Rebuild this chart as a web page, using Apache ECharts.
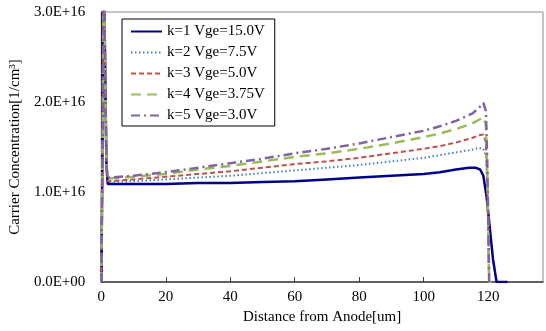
<!DOCTYPE html>
<html><head><meta charset="utf-8">
<script src="https://cdn.jsdelivr.net/npm/echarts@6/dist/echarts.min.js"></script>
<style>html,body{margin:0;padding:0;background:#fff}#c{width:546px;height:331px}</style>
</head><body><div id="c"></div>
<script>
const seriesNames = ['k=1 Vge=15.0V','k=2 Vge=7.5V','k=3 Vge=5.0V','k=4 Vge=3.75V','k=5 Vge=3.0V'];
const xTicks = [0,20,40,60,80,100,120];
const yTicks = [0,1e16,2e16,3e16];

const xK1 = [0,0.4,0.8,1.2,1.6,2,5,10,20,30,40,50,60,70,80,90,100,105,110,114,116,117.5,118.5,119.5,120.5,121.5,122.6,126];
const yK1 = [0,1.5e16,3.5e16,3.5e16,1.3e16,1.09e16,1.09e16,1.09e16,1.09e16,1.10e16,1.10e16,1.11e16,1.12e16,1.14e16,1.16e16,1.18e16,1.20e16,1.22e16,1.25e16,1.27e16,1.27e16,1.25e16,1.18e16,0.95e16,0.6e16,0.25e16,0,0];

const xK = [0,0.4,0.8,1.2,1.6,2,10,20,30,40,50,60,70,80,90,100,105,110,115,117,118.5,119.3,119.8,120.3,121];
const yK2 = [0,1.5e16,3.5e16,3.5e16,1.3e16,1.11e16,1.12e16,1.14e16,1.16e16,1.18e16,1.21e16,1.24e16,1.27e16,1.30e16,1.34e16,1.38e16,1.41e16,1.44e16,1.47e16,1.49e16,1.48e16,1.40e16,1.0e16,0,0];
const yK3 = [0,1.5e16,3.5e16,3.5e16,1.3e16,1.12e16,1.14e16,1.17e16,1.20e16,1.23e16,1.27e16,1.31e16,1.34e16,1.38e16,1.43e16,1.48e16,1.51e16,1.55e16,1.60e16,1.63e16,1.64e16,1.55e16,1.0e16,0,0];
const yK4 = [0,1.5e16,3.5e16,3.5e16,1.3e16,1.15e16,1.17e16,1.20e16,1.25e16,1.29e16,1.34e16,1.39e16,1.43e16,1.48e16,1.54e16,1.61e16,1.65e16,1.70e16,1.76e16,1.80e16,1.83e16,1.75e16,1.1e16,0,0];
const yK5 = [0,1.5e16,3.5e16,3.5e16,1.3e16,1.16e16,1.18e16,1.22e16,1.27e16,1.32e16,1.37e16,1.43e16,1.48e16,1.54e16,1.61e16,1.68e16,1.73e16,1.79e16,1.87e16,1.93e16,1.99e16,1.90e16,1.2e16,0,0];

const colors = ['#00008B','#4A7EBB','#C0504D','#9BBB59','#8064A2'];
const dashes = ['solid',[1.5,2.5],[5,3],[10,6],[9,4,2,4]];
const widths = [2.5,2,2,2.5,2.5];
const FONT = 'Liberation Serif';

function zip(xs, ys){ return xs.map((x,i)=>[x, ys[i]]); }
const dataSets = [zip(xK1,yK1), zip(xK,yK2), zip(xK,yK3), zip(xK,yK4), zip(xK,yK5)];

function fmtE(v){
  if (v === 0) return '0.0E+00';
  const s = v.toExponential(1).split('e');
  const e = parseInt(s[1],10);
  return s[0] + 'E' + (e<0?'-':'+') + String(Math.abs(e)).padStart(2,'0');
}

const chart = echarts.init(document.getElementById('c'), null, {renderer:'canvas'});
chart.setOption({
  animation:false,
  backgroundColor:'#fff',
  textStyle:{fontFamily:FONT, color:'#000'},
  grid:{left:100, right:3, top:12, bottom:49, show:true, borderColor:'#8c8c8c', borderWidth:1, backgroundColor:'transparent'},
  legend:{
    orient:'vertical', left:122, top:19,
    backgroundColor:'#fff', borderColor:'#000', borderWidth:1,
    padding:[5,10,3,8], itemWidth:31, itemHeight:14, itemGap:6,
    textStyle:{fontFamily:FONT, fontSize:15, color:'#000'},
    itemStyle:{opacity:0},
    data: seriesNames
  },
  xAxis:{
    type:'value', min:0, max:137, interval:20,
    name:'Distance from Anode[um]', nameLocation:'middle', nameGap:27,
    nameTextStyle:{fontFamily:FONT, fontSize:15, color:'#000'},
    axisLine:{show:true, lineStyle:{color:'#404040', width:1.5}},
    axisTick:{show:true, inside:true, length:5, customValues:xTicks, lineStyle:{color:'#404040'}},
    axisLabel:{fontFamily:FONT, fontSize:15, color:'#000', margin:8, customValues:xTicks},
    splitLine:{show:false}
  },
  yAxis:{
    type:'value', min:0, max:3e16, interval:1e16,
    name:'Carrier Concentration[1/cm³]', nameLocation:'middle', nameGap:76,
    nameTextStyle:{fontFamily:FONT, fontSize:15, color:'#000'},
    axisLine:{show:true, lineStyle:{color:'#000', width:1.5}},
    axisTick:{show:false},
    axisLabel:{fontFamily:FONT, fontSize:15, color:'#000', margin:16, formatter:fmtE, customValues:yTicks},
    splitLine:{show:false}
  },
  series: dataSets.map((d,i)=>({
    name:seriesNames[i], type:'line', data:d, showSymbol:false, symbol:'none',
    clip:true,
    lineStyle:{color:colors[i], width:widths[i], type:dashes[i]},
    itemStyle:{color:colors[i]}
  }))
});
</script></body></html>
